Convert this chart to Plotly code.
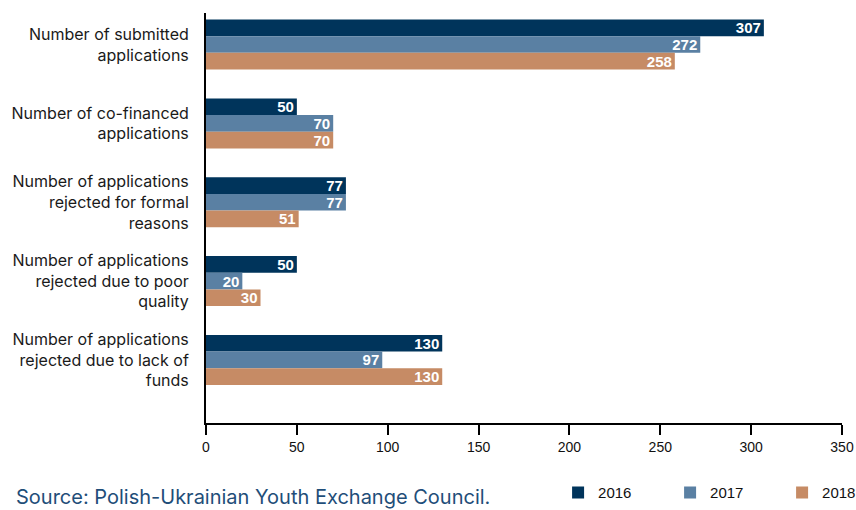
import plotly.graph_objects as go

categories = [
    "Number of submitted<br>applications",
    "Number of co-financed<br>applications",
    "Number of applications<br>rejected for formal<br>reasons",
    "Number of applications<br>rejected due to poor<br>quality",
    "Number of applications<br>rejected due to lack of<br>funds",
]
years = ["2016", "2017", "2018"]
values_2016 = [307, 50, 77, 50, 130]
values_2017 = [272, 70, 77, 20, 97]
values_2018 = [258, 70, 51, 30, 130]
x_ticks = [0, 50, 100, 150, 200, 250, 300, 350]

colors = ["#00345b", "#5a80a3", "#c68b65"]
series = [values_2016, values_2017, values_2018]

fig = go.Figure()
for name, vals, col in zip(years, series, colors):
    fig.add_trace(go.Bar(
        y=categories, x=vals, name=name, orientation="h",
        marker=dict(color=col, line=dict(width=0)),
        text=[str(v) for v in vals], textposition="inside",
        insidetextanchor="end", textangle=0, constraintext="none",
        textfont=dict(family="Liberation Sans", size=15, color="white", weight="bold"),
        cliponaxis=False,
    ))

fig.update_layout(
    width=856, height=510,
    margin=dict(l=206, r=14, t=13, b=87, autoexpand=False),
    paper_bgcolor="white", plot_bgcolor="white",
    barmode="group", bargap=0.366, bargroupgap=0,
    showlegend=True,
    legend=dict(
        orientation="h", x=0.5536, xanchor="left", y=-0.17, yanchor="middle",
        font=dict(family="Liberation Sans", size=15, color="#111111"),
        entrywidth=67, entrywidthmode="pixels",
        traceorder="normal",
        bgcolor="rgba(0,0,0,0)",
    ),
    font=dict(family="Inter", color="#1a1a1a"),
)
fig.update_xaxes(
    range=[0, 350], tickvals=x_ticks, ticktext=[str(t) for t in x_ticks],
    showgrid=False, zeroline=False, automargin=False,
    showline=True, linecolor="black", linewidth=2,
    ticks="outside", ticklen=10, tickwidth=2, tickcolor="black",
    tickfont=dict(family="Liberation Sans", size=14, color="#111111"),
    fixedrange=True,
)
fig.update_yaxes(
    type="category", range=[4.80, -0.40], automargin=False,
    showgrid=False, zeroline=False,
    showline=True, linecolor="black", linewidth=2,
    ticks="", ticklabelstandoff=12,
    tickfont=dict(family="Inter", size=16, color="#1a1a1a"),
    fixedrange=True,
)
fig.add_annotation(
    text="Source: Polish-Ukrainian Youth Exchange Council.",
    xref="paper", yref="paper", x=-0.302, xanchor="left",
    y=-0.18, yanchor="middle", showarrow=False,
    font=dict(family="Inter", size=20, color="#1f4e79"),
)

fig.write_html(
    "out.html",
    config={"displayModeBar": False},
    post_script="document.body.style.margin='0';document.body.style.overflow='hidden';",
)
